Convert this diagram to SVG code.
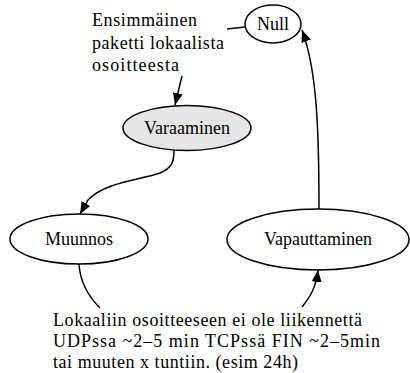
<svg xmlns="http://www.w3.org/2000/svg" width="410" height="373" viewBox="0 0 410 373">
  <style>
    .node { fill: #ffffff; stroke: #000000; stroke-width: 1.5; }
    .active { fill: #e6e6e6; }
    .edge { fill: none; stroke: #000000; stroke-width: 1.5; }
    text { font-family: "Liberation Serif", "Times New Roman", serif; font-size: 18px; fill: #000000; }
    .label { text-anchor: middle; }
  </style>
  <defs>
    <marker id="arrow" viewBox="0 0 12 10" refX="12" refY="5" markerWidth="12" markerHeight="10" markerUnits="userSpaceOnUse" orient="auto">
      <path d="M0,0 L12,5 L0,10 Z" fill="#000000"/>
    </marker>
  </defs>

  <g id="connectors">
    <line class="edge" x1="227" y1="29" x2="245" y2="27"/>
    <path class="edge" d="M182,76 L175,105" marker-end="url(#arrow)"/>
    <path class="edge" d="M174,150 C174,162 172,168 160,173 C140,180 105,182 88,200 L80,214" marker-end="url(#arrow)"/>
    <path class="edge" d="M319,209 C319,130 317,70 302,30" marker-end="url(#arrow)"/>
    <path class="edge" d="M79,264 C80,282 88,296 100,308"/>
    <path class="edge" d="M302,307 C310,297 316,288 318,270" marker-end="url(#arrow)"/>
  </g>

  <g id="null">
    <ellipse class="node" cx="273" cy="24" rx="28" ry="19"/>
    <text class="label" x="273" y="30">Null</text>
  </g>
  <g id="varaaminen">
    <ellipse class="node active" cx="187" cy="128" rx="64" ry="22.5"/>
    <text class="label" x="187" y="134">Varaaminen</text>
  </g>
  <g id="muunnos">
    <ellipse class="node" cx="79" cy="239" rx="69" ry="25"/>
    <text class="label" x="79" y="245">Muunnos</text>
  </g>
  <g id="vapauttaminen">
    <ellipse class="node" cx="318" cy="239.5" rx="91" ry="30.5"/>
    <text class="label" x="318" y="245">Vapauttaminen</text>
  </g>

  <g id="note-top">
    <text x="92" y="26" textLength="105" lengthAdjust="spacing">Ensimmäinen</text>
    <text x="92" y="49" textLength="132" lengthAdjust="spacing">paketti lokaalista</text>
    <text x="92" y="71" textLength="87" lengthAdjust="spacing">osoitteesta</text>
  </g>
  <g id="note-bottom">
    <text x="53" y="326" textLength="309" lengthAdjust="spacing">Lokaaliin osoitteeseen ei ole liikennettä</text>
    <text x="53" y="347" textLength="327" lengthAdjust="spacing">UDPssa ~2–5 min TCPssä FIN ~2–5min</text>
    <text x="53" y="368" textLength="245" lengthAdjust="spacing">tai muuten x tuntiin. (esim 24h)</text>
  </g>
</svg>
